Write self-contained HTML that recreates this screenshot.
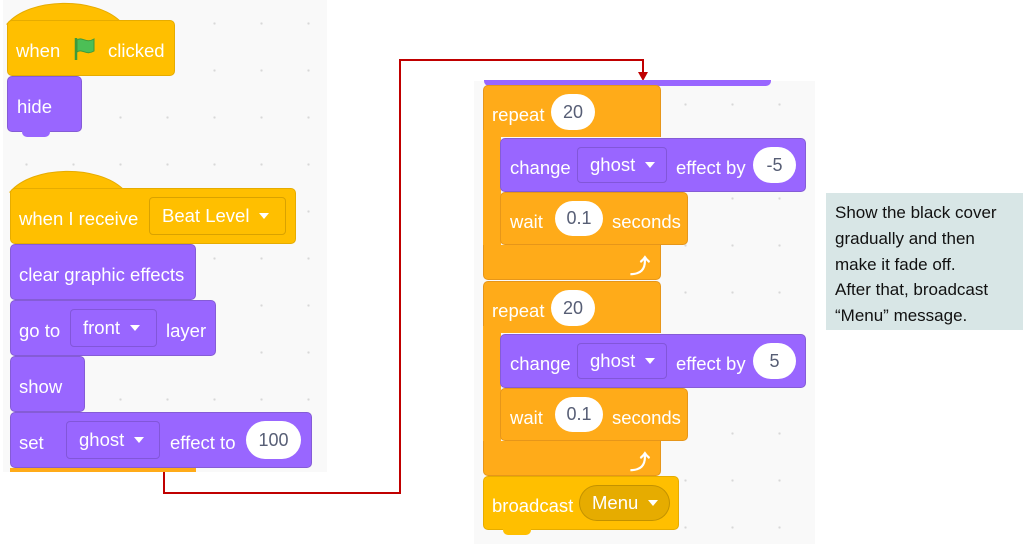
<!DOCTYPE html>
<html><head><meta charset="utf-8"><style>
*{margin:0;padding:0;box-sizing:border-box}
body{width:1023px;height:547px;background:#fff;position:relative;overflow:hidden;font-family:"Liberation Sans",sans-serif}
.p{position:absolute;background:#f9f9f9;background-image:radial-gradient(#d8d8d8 1px,transparent 1.3px);background-size:47px 47px}
.b{position:absolute;border-radius:5px;color:#fff;font-size:18.5px;line-height:1}
.y{background:#ffbf00;border:1px solid #e6ac00}
.u{background:#9966ff;border:1px solid #855cd6}
.o{background:#ffab19;border:1px solid #e6961a}
.t{position:absolute;color:#fff;font-size:18.5px;white-space:nowrap}
.dd{position:absolute;border-radius:4px;border:1px solid rgba(0,0,0,.15);color:#fff;font-size:18.5px;display:flex;align-items:center;padding-left:12px;white-space:nowrap}
.ov{position:absolute;background:#fff;border-radius:20px;color:#575e75;font-size:18px;display:flex;align-items:center;justify-content:center}
.tri{display:inline-block;width:0;height:0;border-left:5px solid transparent;border-right:5px solid transparent;border-top:6px solid #fff;margin-left:10px}
.n{position:absolute;width:28px;height:6px;border-radius:0 0 5px 5px}
.ar{position:absolute;color:#fff;font-size:20px;font-weight:bold}
</style></head><body>
<div class="p" style="left:3px;top:0;width:324px;height:472px"></div>
<div class="p" style="left:474px;top:81px;width:341px;height:463px"></div>

<svg style="position:absolute;left:0;top:0" width="330" height="200">
<path d="M7 24 C30 -3 95 -3 120 21 Z" fill="#ffbf00" stroke="#e6ac00"/>
<path d="M10 192 C33 165 98 165 123 189 Z" fill="#ffbf00" stroke="#e6ac00"/>
</svg>
<div class="b y" style="left:7px;top:20px;width:168px;height:56px"></div>
<div class="t" style="left:16px;top:40px">when</div>
<svg style="position:absolute;left:72px;top:36px" width="26" height="26"><path d="M4 2 V24" stroke="#3d9a3b" stroke-width="2.5"/><path d="M5 4 C10 0 14 8 22 3 V15 C14 20 10 12 5 16Z" fill="#4cbf56" stroke="#3d9a3b" stroke-width="1"/></svg>
<div class="t" style="left:108px;top:40px">clicked</div>
<div class="b u" style="left:7px;top:76px;width:75px;height:56px"></div>
<div class="n" style="left:22px;top:131px;background:#9966ff"></div>
<div class="t" style="left:17px;top:96px">hide</div>

<div class="b y" style="left:10px;top:188px;width:286px;height:56px"></div>
<div class="t" style="left:19px;top:208px">when I receive</div>
<div class="dd" style="left:149px;top:197px;width:137px;height:38px;background:#ffbf00">Beat Level<span class="tri"></span></div>
<div class="b u" style="left:10px;top:244px;width:186px;height:56px"></div>
<div class="t" style="left:19px;top:264px">clear graphic effects</div>
<div class="b u" style="left:10px;top:300px;width:206px;height:56px"></div>
<div class="t" style="left:19px;top:320px">go to</div>
<div class="dd" style="left:70px;top:309px;width:87px;height:38px;background:#9966ff">front<span class="tri"></span></div>
<div class="t" style="left:166px;top:320px">layer</div>
<div class="b u" style="left:10px;top:356px;width:75px;height:56px"></div>
<div class="t" style="left:19px;top:376px">show</div>
<div class="b u" style="left:10px;top:412px;width:302px;height:56px"></div>
<div class="t" style="left:19px;top:432px">set</div>
<div class="dd" style="left:66px;top:421px;width:94px;height:38px;background:#9966ff;padding-left:12px">ghost<span class="tri"></span></div>
<div class="t" style="left:170px;top:432px">effect to</div>
<div class="ov" style="left:246px;top:421px;width:55px;height:38px">100</div>
<div style="position:absolute;left:10px;top:468px;width:186px;height:4px;background:#ffab19"></div>

<svg style="position:absolute;left:0;top:0" width="1023" height="547">
<polyline points="164,472 164,493 400,493 400,60 643,60 643,74" fill="none" stroke="#c00000" stroke-width="2"/>
<polygon points="638,72 648,72 643,81" fill="#c00000"/>
</svg>

<div style="position:absolute;left:484px;top:80px;width:287px;height:6px;background:#9966ff;border-radius:0 0 5px 5px"></div>
<div class="b o" style="left:483px;top:85px;width:178px;height:52px;border-bottom:none;border-radius:5px 5px 0 0"></div>
<div style="position:absolute;left:483px;top:130px;width:18px;height:125px;background:#ffab19"></div>
<div class="b o" style="left:483px;top:245px;width:178px;height:35px;border-top:none;border-radius:0 0 5px 5px"></div>
<div class="t" style="left:492px;top:104px">repeat</div>
<div class="ov" style="left:551px;top:94px;width:44px;height:36px">20</div>
<div class="b u" style="left:500px;top:138px;width:306px;height:54px"></div>
<div class="t" style="left:510px;top:157px">change</div>
<div class="dd" style="left:577px;top:147px;width:90px;height:36px;background:#9966ff">ghost<span class="tri"></span></div>
<div class="t" style="left:676px;top:157px">effect by</div>
<div class="ov" style="left:753px;top:147px;width:43px;height:36px">-5</div>
<div class="b o" style="left:500px;top:192px;width:188px;height:53px"></div>
<div class="t" style="left:510px;top:211px">wait</div>
<div class="ov" style="left:555px;top:201px;width:48px;height:35px">0.1</div>
<div class="t" style="left:612px;top:211px">seconds</div>
<div class="ar" style="left:630px;top:250px">⤴</div>

<div class="b o" style="left:483px;top:281px;width:178px;height:52px;border-bottom:none;border-radius:5px 5px 0 0"></div>
<div style="position:absolute;left:483px;top:326px;width:18px;height:125px;background:#ffab19"></div>
<div class="b o" style="left:483px;top:441px;width:178px;height:35px;border-top:none;border-radius:0 0 5px 5px"></div>
<div class="t" style="left:492px;top:300px">repeat</div>
<div class="ov" style="left:551px;top:290px;width:44px;height:36px">20</div>
<div class="b u" style="left:500px;top:334px;width:306px;height:54px"></div>
<div class="t" style="left:510px;top:353px">change</div>
<div class="dd" style="left:577px;top:343px;width:90px;height:36px;background:#9966ff">ghost<span class="tri"></span></div>
<div class="t" style="left:676px;top:353px">effect by</div>
<div class="ov" style="left:753px;top:343px;width:43px;height:36px">5</div>
<div class="b o" style="left:500px;top:388px;width:188px;height:53px"></div>
<div class="t" style="left:510px;top:407px">wait</div>
<div class="ov" style="left:555px;top:397px;width:48px;height:35px">0.1</div>
<div class="t" style="left:612px;top:407px">seconds</div>
<div class="ar" style="left:630px;top:446px">⤴</div>

<div class="b y" style="left:483px;top:476px;width:196px;height:54px"></div>
<div class="n" style="left:503px;top:529px;background:#ffbf00"></div>
<div class="t" style="left:492px;top:495px">broadcast</div>
<div class="dd" style="left:579px;top:485px;width:91px;height:36px;background:#e6ac00;border-radius:18px">Menu<span class="tri"></span></div>

<div style="position:absolute;left:826px;top:193px;width:197px;height:137px;background:#d8e6e6;padding:7px 0 0 9px;font-size:17px;line-height:25.8px;color:#111;white-space:nowrap">Show the black cover<br>gradually and then<br>make it fade off.<br>After that, broadcast<br>“Menu” message.</div>
</body></html>
